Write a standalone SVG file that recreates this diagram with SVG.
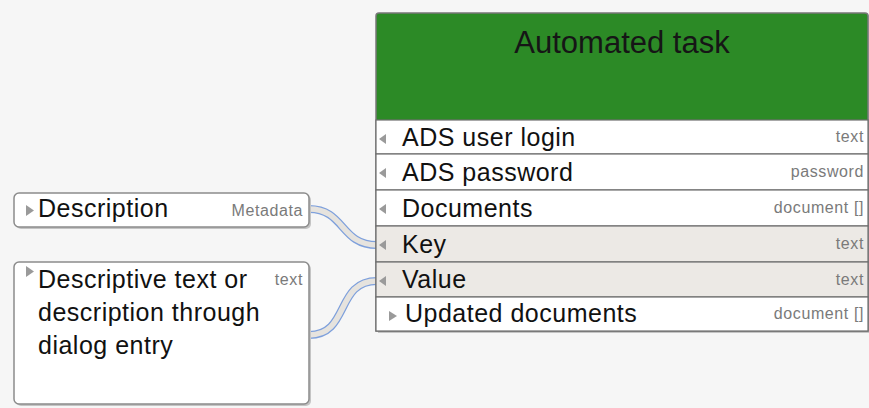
<svg xmlns="http://www.w3.org/2000/svg" width="869" height="408" viewBox="0 0 869 408">
<defs>
<style>
.lbl{font-family:"Liberation Sans",Arial,sans-serif;font-size:25px;fill:#111;letter-spacing:0.5px}
.typ{font-family:"Liberation Sans",Arial,sans-serif;font-size:16px;fill:#7a7a7a;letter-spacing:0.6px;text-anchor:end}
.ttl{font-family:"Liberation Sans",Arial,sans-serif;font-size:31px;fill:#161616;text-anchor:middle}
.box{fill:#fff;stroke:#8c8c8c;stroke-width:1.5}
.shadow{fill:#c4c4c4}
.row{fill:#fff;stroke:#6e6e6e;stroke-width:1.2}
.rowg{fill:#ece9e5;stroke:#6e6e6e;stroke-width:1.2}
.tri{fill:#9a9a9a}
.wire-o{fill:none;stroke:#7ea0dc;stroke-width:8}
.wire-i{fill:none;stroke:#e6e3de;stroke-width:5.5}
</style>
</defs>
<rect x="0" y="0" width="869" height="408" fill="#f6f6f6"/>

<g id="connectors">
<path class="wire-o" d="M309,209 C345,209 340,245 377,245"/>
<path class="wire-i" d="M309,209 C345,209 340,245 377,245"/>
<path class="wire-o" d="M309,335 C350,335 335,281 377,281"/>
<path class="wire-i" d="M309,335 C350,335 335,281 377,281"/>
</g>

<g id="automated-task">
<rect x="378" y="15" width="491" height="318" class="shadow"/>
<path d="M376,331 V16 Q376,13 379,13 H865 Q868,13 868,16 V331 Z" fill="#2c8a26" stroke="#777" stroke-width="1.5"/>
<text x="622" y="53" class="ttl">Automated task</text>
<rect x="376" y="120" width="492" height="34" class="row"/>
<rect x="376" y="154" width="492" height="36" class="row"/>
<rect x="376" y="190" width="492" height="36" class="row"/>
<rect x="376" y="226" width="492" height="36" class="rowg"/>
<rect x="376" y="262" width="492" height="35" class="rowg"/>
<rect x="376" y="297" width="492" height="34" class="row"/>
<path class="tri" d="M386,134 L379,139 L386,144 Z"/>
<path class="tri" d="M386,168 L379,173 L386,178 Z"/>
<path class="tri" d="M386,204 L379,209 L386,214 Z"/>
<path class="tri" d="M386,240 L379,245 L386,250 Z"/>
<path class="tri" d="M386,276 L379,281 L386,286 Z"/>
<path class="tri" d="M389,311 L397,316 L389,321 Z"/>
<text x="402" y="146" class="lbl">ADS user login</text>
<text x="864" y="142" class="typ">text</text>
<text x="402" y="181" class="lbl">ADS password</text>
<text x="864" y="177" class="typ">password</text>
<text x="402" y="217" class="lbl">Documents</text>
<text x="864" y="213" class="typ">document []</text>
<text x="402" y="253" class="lbl">Key</text>
<text x="864" y="249" class="typ">text</text>
<text x="402" y="288" class="lbl">Value</text>
<text x="864" y="285" class="typ">text</text>
<text x="405" y="322" class="lbl">Updated documents</text>
<text x="864" y="319" class="typ">document []</text>
</g>

<g id="description">
<rect x="16" y="195" width="295" height="34" rx="5" class="shadow"/>
<rect x="14" y="193" width="295" height="34" rx="5" class="box"/>
<path class="tri" d="M26,205 L34,210.5 L26,216 Z"/>
<text x="38" y="217" class="lbl">Description</text>
<text x="303" y="216" class="typ">Metadata</text>
</g>

<g id="descriptive-text">
<rect x="16" y="264" width="295" height="142" rx="5" class="shadow"/>
<rect x="14" y="262" width="295" height="142" rx="5" class="box"/>
<path class="tri" d="M26,266 L34,271.5 L26,277 Z"/>
<text x="38" y="288" class="lbl">Descriptive text or</text>
<text x="38" y="321" class="lbl">description through</text>
<text x="38" y="354" class="lbl">dialog entry</text>
<text x="303" y="285" class="typ">text</text>
</g>
</svg>
